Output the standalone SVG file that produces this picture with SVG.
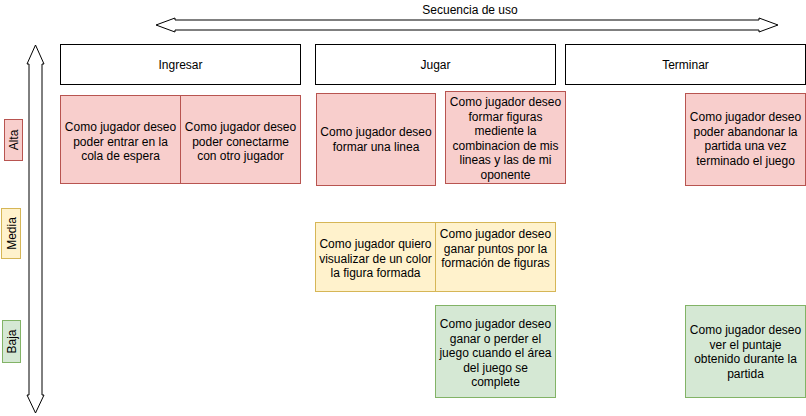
<svg xmlns="http://www.w3.org/2000/svg" width="806" height="416" viewBox="0 0 806 416">
<style>
text{font-family:"Liberation Sans",Arial,sans-serif;font-size:12px;fill:#000;text-anchor:middle}
.hdr{fill:#fff;stroke:#000;stroke-width:1}
.red{fill:#f8cecc;stroke:#b85450;stroke-width:1}
.yel{fill:#fff2cc;stroke:#d6b656;stroke-width:1}
.grn{fill:#d5e8d4;stroke:#82b366;stroke-width:1}
.arr{fill:#fff;stroke:#000;stroke-width:1;stroke-linejoin:miter}
</style>
<rect width="806" height="416" fill="#fff"/>
<g id="connectors">
<polygon class="arr" points="156,25 175,18 175,20 759,20 759,18 778,25 759,32 759,30 175,30 175,32"/>
<polygon class="arr" points="35.5,45 44,64 42,64 42,395 44,395 35.5,413 27,395 29,395 29,64 27,64"/>
</g>
<g id="title"><text x="470" y="14">Secuencia de uso</text></g>
<g id="ingresar"><rect class="hdr" x="60.5" y="44.5" width="240" height="40"/><text x="180.5" y="68.5">Ingresar</text></g>
<g id="jugar"><rect class="hdr" x="315.5" y="44.5" width="240" height="40"/><text x="435.5" y="68.5">Jugar</text></g>
<g id="terminar"><rect class="hdr" x="565.5" y="44.5" width="240" height="40"/><text x="685.5" y="68.5">Terminar</text></g>
<g id="alta"><rect class="red" x="4.5" y="119.5" width="18" height="41"/><text transform="translate(17.5,140) rotate(-90)">Alta</text></g>
<g id="media"><rect class="yel" x="1.5" y="208.5" width="19" height="50"/><text transform="translate(15.5,233.5) rotate(-90)">Media</text></g>
<g id="baja"><rect class="grn" x="2.5" y="320.5" width="18" height="42"/><text transform="translate(15.5,341.5) rotate(-90)">Baja</text></g>
<g id="card1"><rect class="red" x="60.5" y="95.5" width="120" height="88"/><text x="120.5" y="131">Como jugador deseo</text><text x="120.5" y="145.5">poder entrar en la</text><text x="120.5" y="160">cola de espera</text></g>
<g id="card2"><rect class="red" x="180.5" y="95.5" width="120" height="88"/><text x="240.5" y="131">Como jugador deseo</text><text x="240.5" y="145.5">poder conectarme</text><text x="240.5" y="160">con otro jugador</text></g>
<g id="card3"><rect class="red" x="316.5" y="93.5" width="119" height="92"/><text x="376" y="136">Como jugador deseo</text><text x="376" y="150.5">formar una linea</text></g>
<g id="card4"><rect class="red" x="445.5" y="91.5" width="120" height="92"/><text x="505.5" y="106">Como jugador deseo</text><text x="505.5" y="120.5">formar figuras</text><text x="505.5" y="135">mediente la</text><text x="505.5" y="149.5">combinacion de mis</text><text x="505.5" y="164">lineas y las de mi</text><text x="505.5" y="178.5">oponente</text></g>
<g id="card5"><rect class="red" x="685.5" y="93.5" width="120" height="92"/><text x="745.5" y="121">Como jugador deseo</text><text x="745.5" y="135.5">poder abandonar la</text><text x="745.5" y="150">partida una vez</text><text x="745.5" y="164.5">terminado el juego</text></g>
<g id="card6"><rect class="yel" x="315.5" y="222.5" width="120" height="69"/><text x="375.5" y="248">Como jugador quiero</text><text x="375.5" y="262.5">visualizar de un color</text><text x="375.5" y="277">la figura formada</text></g>
<g id="card7"><rect class="yel" x="435.5" y="222.5" width="120" height="69"/><text x="495.5" y="238">Como jugador deseo</text><text x="495.5" y="252.5">ganar puntos por la</text><text x="495.5" y="267">formación de figuras</text></g>
<g id="card8"><rect class="grn" x="435.5" y="305.5" width="120" height="92"/><text x="495.5" y="328">Como jugador deseo</text><text x="495.5" y="342.5">ganar o perder el</text><text x="495.5" y="357">juego cuando el área</text><text x="495.5" y="371.5">del juego se</text><text x="495.5" y="386">complete</text></g>
<g id="card9"><rect class="grn" x="685.5" y="305.5" width="120" height="92"/><text x="745.5" y="334">Como jugador deseo</text><text x="745.5" y="348.5">ver el puntaje</text><text x="745.5" y="363">obtenido durante la</text><text x="745.5" y="377.5">partida</text></g>
</svg>
